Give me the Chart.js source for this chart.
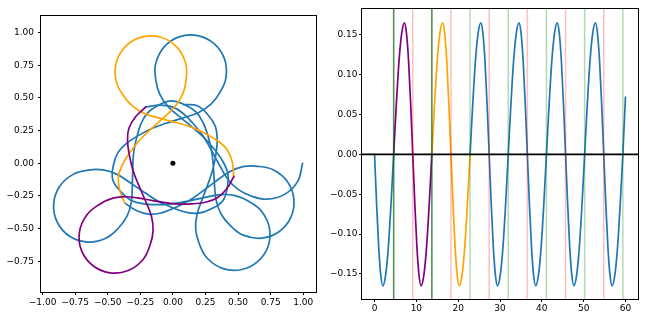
<!DOCTYPE html>
<html>
<head>
<meta charset="utf-8">
<script src="https://cdn.jsdelivr.net/npm/chart.js@4.4.1/dist/chart.umd.min.js"></script>
<style>
  html, body { margin: 0; padding: 0; background: #fff; }
  #wrap { position: relative; width: 648px; height: 321px; }
  canvas { position: absolute; top: 0; }
</style>
</head>
<body>
<div id="wrap">
  <canvas id="orbit" width="324" height="321" style="left:0"></canvas>
  <canvas id="wave" width="324" height="321" style="left:324px"></canvas>
</div>
<script>
// ---- left panel: the path, one array per loop (x, y) ----
const startArc = [[0.995,0.000],[0.958,-0.138],[0.857,-0.238],[0.720,-0.275],[0.600,-0.250],[0.500,-0.200],[0.420,-0.120],[0.350,0.000],[0.290,0.110],[0.230,0.210],[0.150,0.310],[0.080,0.380],[0.000,0.430],[-0.100,0.445]];
const loop1 = [[-0.208,0.431],[-0.288,0.354],[-0.338,0.266],[-0.348,0.172],[-0.336,0.074],[-0.307,-0.051],[-0.266,-0.160],[-0.216,-0.275],[-0.165,-0.404],[-0.152,-0.517],[-0.175,-0.626],[-0.229,-0.736],[-0.343,-0.821],[-0.484,-0.838],[-0.615,-0.782],[-0.701,-0.668],[-0.717,-0.526],[-0.661,-0.396],[-0.568,-0.317],[-0.466,-0.269],[-0.354,-0.256],[-0.216,-0.275],[-0.093,-0.296],[0.023,-0.311],[0.151,-0.310],[0.249,-0.298],[0.338,-0.266],[0.412,-0.197],[0.468,-0.101]];
const loop2 = [[0.467,-0.103],[0.456,0.007],[0.418,0.101],[0.351,0.167],[0.266,0.219],[0.150,0.273],[0.039,0.308],[-0.082,0.340],[-0.215,0.380],[-0.312,0.439],[-0.384,0.524],[-0.437,0.635],[-0.433,0.777],[-0.359,0.899],[-0.234,0.967],[-0.091,0.964],[0.030,0.889],[0.098,0.765],[0.102,0.642],[0.077,0.533],[0.018,0.436],[-0.082,0.340],[-0.175,0.256],[-0.258,0.174],[-0.337,0.073],[-0.388,-0.012],[-0.418,-0.101],[-0.409,-0.202],[-0.369,-0.305]];
const loop3 = [[-0.370,-0.304],[-0.276,-0.363],[-0.179,-0.391],[-0.085,-0.379],[0.007,-0.344],[0.122,-0.287],[0.218,-0.221],[0.318,-0.146],[0.432,-0.066],[0.538,-0.026],[0.650,-0.023],[0.769,-0.050],[0.878,-0.140],[0.928,-0.273],[0.905,-0.414],[0.814,-0.524],[0.680,-0.573],[0.540,-0.550],[0.441,-0.477],[0.371,-0.390],[0.332,-0.284],[0.318,-0.146],[0.310,-0.021],[0.297,0.095],[0.266,0.220],[0.231,0.312],[0.179,0.391],[0.094,0.446],[-0.012,0.478]];
const loop4 = [[-0.010,0.478],[-0.115,0.442],[-0.197,0.382],[-0.245,0.301],[-0.275,0.207],[-0.301,0.082],[-0.308,-0.035],[-0.311,-0.160],[-0.319,-0.299],[-0.353,-0.407],[-0.419,-0.497],[-0.515,-0.574],[-0.653,-0.603],[-0.789,-0.561],[-0.885,-0.455],[-0.915,-0.315],[-0.871,-0.180],[-0.766,-0.085],[-0.648,-0.052],[-0.536,-0.051],[-0.428,-0.085],[-0.311,-0.160],[-0.208,-0.230],[-0.109,-0.292],[0.008,-0.344],[0.103,-0.375],[0.197,-0.382],[0.292,-0.350],[0.383,-0.286]];
const loop5 = [[0.382,-0.288],[0.418,-0.183],[0.422,-0.082],[0.388,0.006],[0.333,0.088],[0.250,0.186],[0.163,0.264],[0.067,0.344],[-0.038,0.435],[-0.101,0.529],[-0.131,0.637],[-0.133,0.759],[-0.070,0.887],[0.047,0.967],[0.190,0.977],[0.318,0.914],[0.397,0.796],[0.407,0.654],[0.360,0.541],[0.292,0.453],[0.198,0.389],[0.067,0.344],[-0.053,0.306],[-0.162,0.266],[-0.276,0.206],[-0.358,0.151],[-0.422,0.082],[-0.456,-0.013],[-0.462,-0.124]];
const loop6 = [[-0.463,-0.122],[-0.402,-0.215],[-0.326,-0.281],[-0.235,-0.309],[-0.137,-0.316],[-0.009,-0.311],[0.106,-0.291],[0.229,-0.265],[0.365,-0.240],[0.478,-0.248],[0.581,-0.291],[0.679,-0.365],[0.740,-0.493],[0.731,-0.635],[0.650,-0.753],[0.522,-0.815],[0.380,-0.804],[0.262,-0.725],[0.203,-0.618],[0.175,-0.509],[0.184,-0.396],[0.229,-0.265],[0.273,-0.148],[0.309,-0.037],[0.333,0.089],[0.340,0.188],[0.326,0.281],[0.272,0.367],[0.188,0.440]];
const tailArc = [[0.190,0.439],[0.080,0.449]];
const centre = [[0, 0]];

const orbitXTicks = [-1, -0.75, -0.5, -0.25, 0, 0.25, 0.5, 0.75, 1];
const orbitYTicks = [-0.75, -0.5, -0.25, 0, 0.25, 0.5, 0.75, 1];

// ---- right panel: signal over time ----
const waveT = [
  0, 0.5, 1.0, 1.5, 2.0, 2.64, 3.29, 3.93,
  4.57, 5.21, 5.85, 6.50, 7.14, 7.64, 8.14, 8.64,
  9.14, 9.64, 10.14, 10.64, 11.14, 11.78, 12.43, 13.07,
  13.70, 14.34, 14.98, 15.63, 16.27, 16.77, 17.27, 17.77,
  18.27, 18.77, 19.27, 19.77, 20.27, 20.91, 21.56, 22.20,
  22.84, 23.48, 24.12, 24.77, 25.41, 25.91, 26.41, 26.91,
  27.41, 27.91, 28.41, 28.91, 29.41, 30.05, 30.70, 31.34,
  31.97, 32.61, 33.25, 33.90, 34.54, 35.04, 35.54, 36.04,
  36.54, 37.04, 37.54, 38.04, 38.54, 39.18, 39.83, 40.47,
  41.11, 41.75, 42.39, 43.04, 43.68, 44.18, 44.68, 45.18,
  45.68, 46.18, 46.68, 47.18, 47.68, 48.32, 48.97, 49.61,
  50.24, 50.88, 51.52, 52.17, 52.81, 53.31, 53.81, 54.31,
  54.81, 55.31, 55.81, 56.31, 56.81, 57.45, 58.10, 58.74,
  59.38, 60.00
];
const waveY = [
  0, -0.063, -0.117, -0.152, -0.165, -0.152, -0.117, -0.063,
  0, 0.063, 0.117, 0.152, 0.165, 0.152, 0.117, 0.063,
  0, -0.063, -0.117, -0.152, -0.165, -0.152, -0.117, -0.063,
  0, 0.063, 0.117, 0.152, 0.165, 0.152, 0.117, 0.063,
  0, -0.063, -0.117, -0.152, -0.165, -0.152, -0.117, -0.063,
  0, 0.063, 0.117, 0.152, 0.165, 0.152, 0.117, 0.063,
  0, -0.063, -0.117, -0.152, -0.165, -0.152, -0.117, -0.063,
  0, 0.063, 0.117, 0.152, 0.165, 0.152, 0.117, 0.063,
  0, -0.063, -0.117, -0.152, -0.165, -0.152, -0.117, -0.063,
  0, 0.063, 0.117, 0.152, 0.165, 0.152, 0.117, 0.063,
  0, -0.063, -0.117, -0.152, -0.165, -0.152, -0.117, -0.063,
  0, 0.063, 0.117, 0.152, 0.165, 0.152, 0.117, 0.063,
  0, -0.063, -0.117, -0.152, -0.165, -0.152, -0.117, -0.063,
  0, 0.072
];
const upCrossings = [4.57, 13.70, 22.84, 31.97, 41.11, 50.24, 59.38];
const downCrossings = [9.14, 18.27, 27.41, 36.54, 45.68, 54.81];
const markedCrossings = [4.57, 13.70];   // start/end of the purple stretch
const purpleSpan = [4.57, 13.70];
const orangeSpan = [13.70, 22.84];

const waveXTicks = [0, 10, 20, 30, 40, 50, 60];
const waveYTicks = [-0.15, -0.10, -0.05, 0, 0.05, 0.10, 0.15];

// ---- shared bits ----
Chart.defaults.font.family = 'DejaVu Sans';
Chart.defaults.font.size = 9;
Chart.defaults.color = '#000';

const BLUE = '#1f77b4', PURPLE = '#800080', ORANGE = '#ffa500';
const minus = v => (v < 0 ? '\u2212' : '') + Math.abs(v).toFixed(2);
const pts = arr => arr.map(p => ({x: p[0], y: p[1]}));

// box round the plot area, like matplotlib's four spines
const frame = {
  id: 'frame',
  afterDraw(chart) {
    const {ctx, chartArea: a} = chart;
    ctx.save();
    ctx.strokeStyle = '#000';
    ctx.lineWidth = 1;
    ctx.strokeRect(a.left - 0.5, a.top - 0.5, a.right - a.left + 1, a.bottom - a.top + 1);
    ctx.restore();
  }
};

function axis(min, max, ticks, fmt, fit, pad) {
  return {
    type: 'linear', min: min, max: max,
    border: {display: false},
    grid: {drawOnChartArea: false, drawTicks: true, tickLength: 3, tickColor: '#000'},
    ticks: {callback: fmt, autoSkip: false, maxRotation: 0, padding: pad, color: '#000'},
    afterBuildTicks: s => { s.ticks = ticks.map(v => ({value: v})); },
    afterFit: fit
  };
}

function line(data, color, order, extra) {
  return Object.assign({
    data: data, showLine: true, borderColor: color, borderWidth: 1.7,
    pointRadius: 0, fill: false, order: order, borderCapStyle: 'round'
  }, extra || {});
}

// ---- left chart ----
// blue only where the path is not already purple or orange
const blueHead = [].concat(startArc, loop1.slice(0, 1));
const blueTail = [].concat(loop2.slice(-1), loop3.slice(1), loop4.slice(1),
  loop5.slice(1), loop6.slice(1), tailArc.slice(1));

new Chart(document.getElementById('orbit'), {
  type: 'scatter',
  data: {
    datasets: [
      {data: pts(centre), pointRadius: 2.5, pointBackgroundColor: '#000', pointBorderWidth: 0, order: 0},
      line(pts(loop1), PURPLE, 1, {tension: 0.4}),
      line(pts(loop2), ORANGE, 1, {tension: 0.4}),
      line(pts(blueHead), BLUE, 2, {tension: 0.4}),
      line(pts(blueTail), BLUE, 2, {tension: 0.4})
    ]
  },
  options: {
    responsive: false, animation: false,
    layout: {padding: {left: 0, top: 16, right: 8, bottom: 0}},
    plugins: {legend: {display: false}, tooltip: {enabled: false}},
    scales: {
      x: axis(-1.012, 1.098, orbitXTicks, minus, s => { s.height = 29; }, 2),
      y: axis(-0.985, 1.127, orbitYTicks, minus, s => { s.width = 41; }, 4)
    }
  },
  plugins: [frame]
});

// ---- right chart ----
const wavePts = waveT.map((t, i) => ({x: t, y: waveY[i]}));
const within = (a, b) => wavePts.filter(p => p.x >= a && p.x <= b);
const Y0 = -0.1815, Y1 = 0.1824;
const vline = (x, color) => line([{x: x, y: Y0}, {x: x, y: Y1}], color, 0, {borderWidth: 1.5, borderCapStyle: 'butt'});
const smooth = {cubicInterpolationMode: 'monotone'};

new Chart(document.getElementById('wave'), {
  type: 'scatter',
  data: {
    datasets: [].concat(
      upCrossings.map(x => vline(x, 'rgba(0,128,0,0.3)')),
      downCrossings.map(x => vline(x, 'rgba(255,0,0,0.25)')),
      markedCrossings.map(x => vline(x, 'rgba(0,70,0,0.55)')),
      [
        line([{x: -3, y: 0}, {x: 63, y: 0}], '#000', 1, {borderWidth: 1.8, borderCapStyle: 'butt'}),
        line(within(purpleSpan[0], purpleSpan[1]), PURPLE, 2, smooth),
        line(within(orangeSpan[0], orangeSpan[1]), ORANGE, 2, smooth),
        line(within(0, purpleSpan[0]), BLUE, 3, smooth),
        line(within(orangeSpan[1], 60), BLUE, 3, smooth)
      ]
    )
  },
  options: {
    responsive: false, animation: false,
    layout: {padding: {left: 0, top: 9, right: 10, bottom: 0}},
    plugins: {legend: {display: false}, tooltip: {enabled: false}},
    scales: {
      x: axis(-3, 63, waveXTicks, v => String(v), s => { s.height = 22; }, 1),
      y: axis(Y0, Y1, waveYTicks, minus, s => { s.width = 38; }, 1.5)
    }
  },
  plugins: [frame]
});
</script>
</body>
</html>
